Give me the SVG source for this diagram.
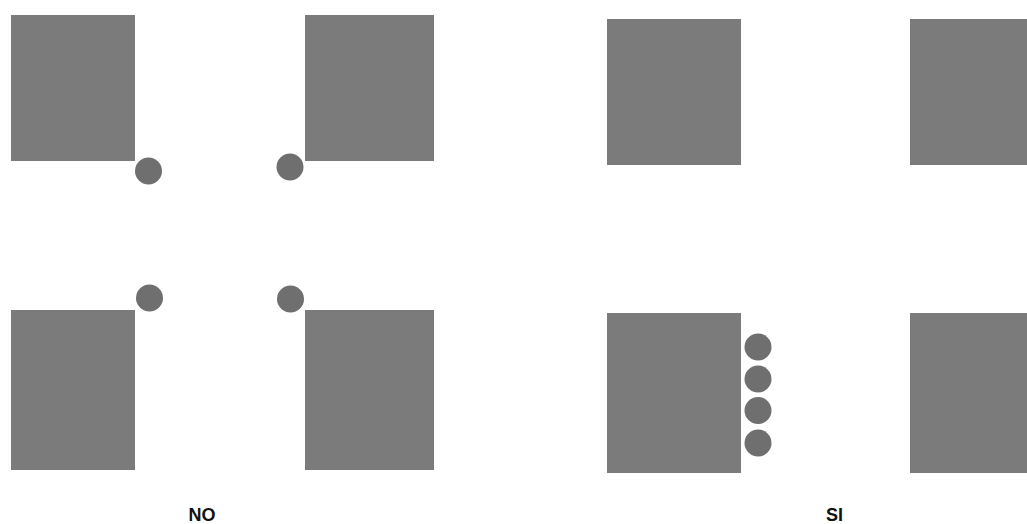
<svg xmlns="http://www.w3.org/2000/svg" width="1027" height="524" viewBox="0 0 1027 524">
<style>
.blk{fill:#7b7b7b}
.dot{fill:#6f6f6f}
.lbl{font-family:"Liberation Sans",Arial,sans-serif;font-weight:bold;font-size:18px;fill:#111;text-anchor:middle}
</style>
<rect width="1027" height="524" fill="#fff"/>
<g id="no">
<g id="no-blocks">
<rect class="blk" x="11" y="15" width="124" height="146"/>
<rect class="blk" x="305" y="15" width="129" height="146"/>
<rect class="blk" x="11" y="310" width="124" height="160"/>
<rect class="blk" x="305" y="310" width="129" height="160"/>
</g>
<g id="no-dots">
<circle class="dot" cx="148.5" cy="171" r="13.5"/>
<circle class="dot" cx="290" cy="167" r="13.5"/>
<circle class="dot" cx="149.5" cy="298" r="13.5"/>
<circle class="dot" cx="290.5" cy="299" r="13.5"/>
</g>
<text class="lbl" x="202" y="521">NO</text>
</g>
<g id="si">
<g id="si-blocks">
<rect class="blk" x="607" y="19" width="134" height="146"/>
<rect class="blk" x="910" y="19" width="117" height="146"/>
<rect class="blk" x="607" y="313" width="134" height="160"/>
<rect class="blk" x="910" y="313" width="117" height="160"/>
</g>
<g id="si-dots">
<circle class="dot" cx="758" cy="347" r="13.5"/>
<circle class="dot" cx="758" cy="379" r="13.5"/>
<circle class="dot" cx="758" cy="410.5" r="13.5"/>
<circle class="dot" cx="758" cy="443" r="13.5"/>
</g>
<text class="lbl" x="834.5" y="521">SI</text>
</g>
</svg>
